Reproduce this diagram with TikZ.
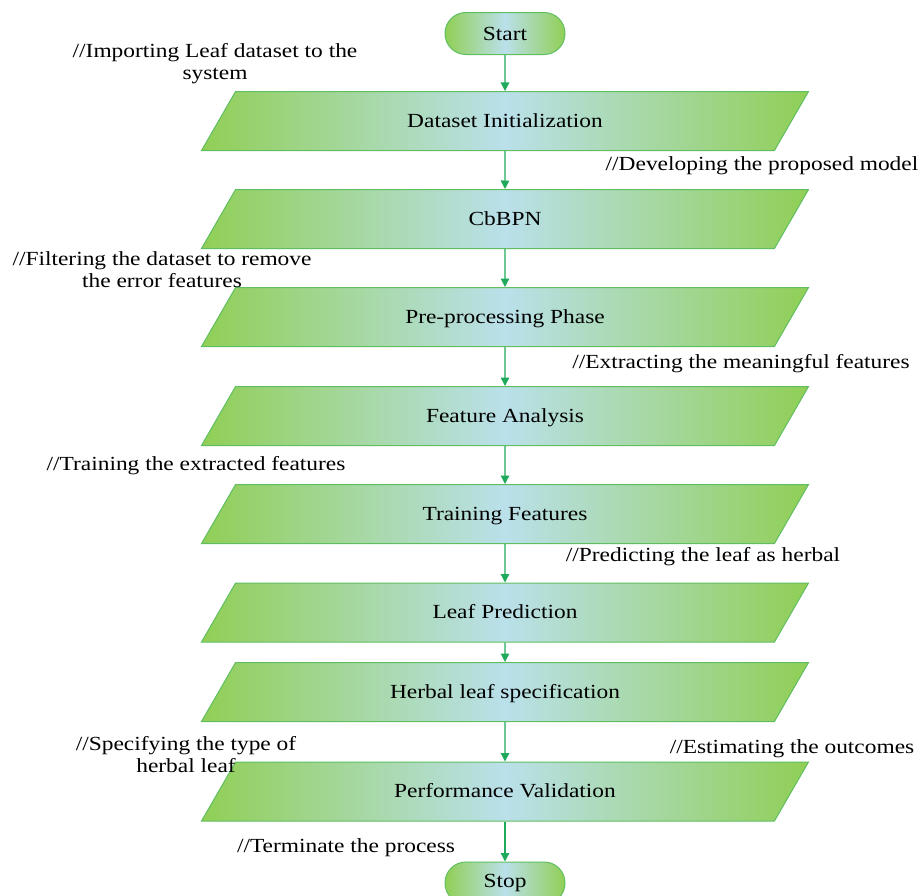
\documentclass[tikz,border=0pt]{standalone}
\usepackage{fontspec}
\setmainfont{Liberation Serif}[FakeStretch=1.17]
\usetikzlibrary{shapes.geometric,arrows.meta}
\definecolor{lgreen}{RGB}{144,207,86}
\definecolor{lblue}{RGB}{186,224,234}
\definecolor{bgreen}{RGB}{96,190,96}
\definecolor{agreen}{RGB}{30,170,90}
\begin{document}
\begin{tikzpicture}[x=1pt,y=-1pt,
  txt/.style={font=\fontsize{20}{22}\selectfont},
  iobox/.style={trapezium, trapezium left angle=60, trapezium right angle=120,
    trapezium stretches body, minimum width=607pt,
    text height=15.5pt, text depth=3.5pt, inner ysep=20pt, inner xsep=0pt,
    draw=bgreen, line width=1pt, left color=lgreen, right color=lgreen,
    middle color=lblue, txt},
  term/.style={rectangle, rounded corners=20.9pt, minimum width=120pt,
    minimum height=42pt, draw=bgreen, line width=1pt, left color=lgreen,
    right color=lgreen, middle color=lblue, inner sep=0pt, txt},
  note/.style={txt, align=center, inner sep=0pt},
  arr/.style={draw=agreen, line width=1.3pt, -{Triangle[width=8.5pt,length=8.5pt]}}]
\useasboundingbox (0,0) rectangle (920,895);
\clip (0,0) rectangle (920,895);
\node[term] (start) at (505,33.5) {Start};
\node[iobox] (b1) at (505,121) {Dataset Initialization};
\node[iobox] (b2) at (505,219) {CbBPN};
\node[iobox] (b3) at (505,317) {Pre-processing Phase};
\node[iobox] (b4) at (505,416) {Feature Analysis};
\node[iobox] (b5) at (505,514) {Training Features};
\node[iobox] (b6) at (505,612.5) {Leaf Prediction};
\node[iobox] (b7) at (505,692) {Herbal leaf specification};
\node[iobox] (b8) at (505,791.5) {Performance Validation};
\node[term] (stop) at (505,883) {Stop};
\draw[arr] (start) -- (b1);
\draw[arr] (b1) -- (b2);
\draw[arr] (b2) -- (b3);
\draw[arr] (b3) -- (b4);
\draw[arr] (b4) -- (b5);
\draw[arr] (b5) -- (b6);
\draw[arr] (b6) -- (b7);
\draw[arr] (b7) -- (b8);
\draw[arr] (b8) -- (stop);
\node[note] (n1) at (215,64) {//Importing Leaf dataset to the\\system};
\node[note] (n2) at (762,166) {//Developing the proposed model};
\node[note] (n3) at (162,270) {//Filtering the dataset to remove\\the error features};
\node[note] (n4) at (741,364) {//Extracting the meaningful features};
\node[note] (n5) at (196,466) {//Training the extracted features};
\node[note] (n6) at (703,557) {//Predicting the leaf as herbal};
\node[note] (n7) at (186,755) {//Specifying the type of\\herbal leaf};
\node[note] (n8) at (792,749) {//Estimating the outcomes};
\node[note] (n9) at (346,848) {//Terminate the process};
\end{tikzpicture}
\end{document}
